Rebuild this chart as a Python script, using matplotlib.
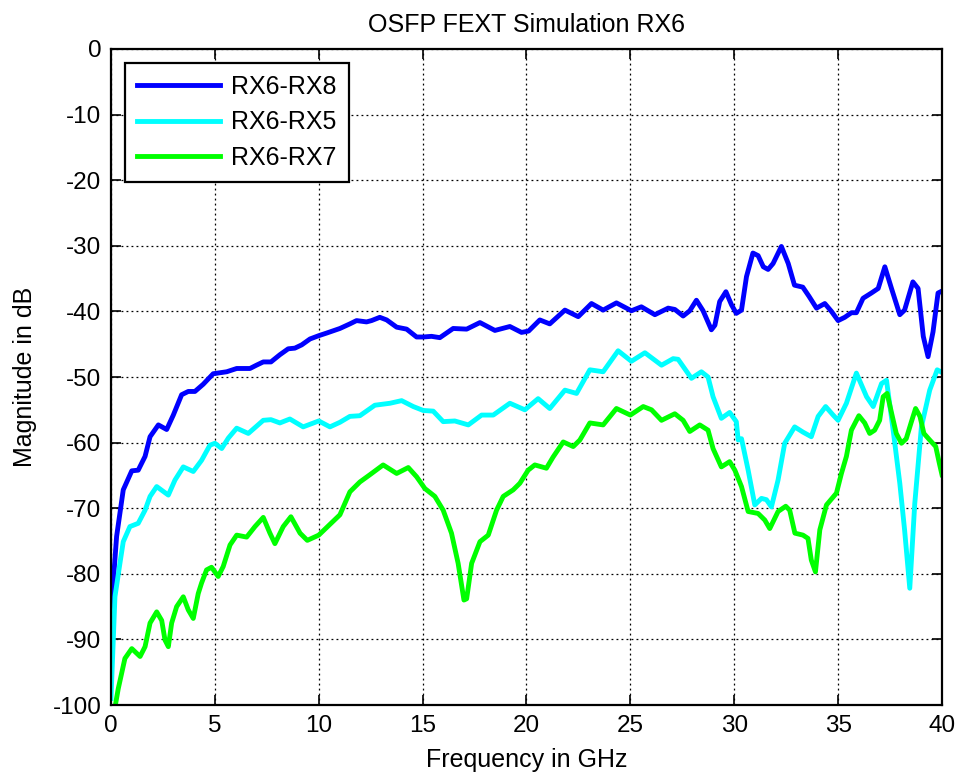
import matplotlib
matplotlib.use("Agg")
import matplotlib.pyplot as plt
import numpy as np

# RX6-RX8 (blue)
f_rx8 = [0.0, 0.27, 0.59, 1.0, 1.31, 1.64, 1.88, 2.28, 2.68, 3.0, 3.4, 3.72, 4.04, 4.44, 4.92,
         5.57, 6.05, 6.69, 7.0, 7.33, 7.7, 8.13, 8.53, 8.85, 9.18, 9.58, 10.0, 10.38, 11.02,
         11.5, 11.82, 12.3, 12.54, 12.94, 13.27, 13.75, 14.23, 14.71, 15.03, 15.43, 15.83,
         16.47, 17.12, 17.76, 18.48, 19.2, 19.76, 20.1, 20.64, 21.12, 21.85, 22.49, 23.13,
         23.69, 24.33, 25.05, 25.53, 26.18, 26.82, 27.14, 27.54, 27.86, 28.18, 28.5, 28.9,
         29.07, 29.3, 29.6, 29.87, 30.1, 30.35, 30.59, 30.9, 31.15, 31.4, 31.63, 31.87, 32.27,
         32.6, 32.9, 33.3, 33.6, 33.96, 34.36, 34.68, 35.0, 35.32, 35.64, 35.88, 36.2, 36.6,
         36.93, 37.25, 37.57, 37.97, 38.2, 38.6, 38.85, 39.1, 39.33, 39.57, 39.81, 40.0]
db_rx8 = [-86, -74.3, -67.2, -64.3, -64.2, -62.1, -59.1, -57.3, -58.0, -55.8, -52.7, -52.2, -52.2,
          -51.1, -49.5, -49.2, -48.7, -48.7, -48.2, -47.7, -47.7, -46.6, -45.7, -45.6, -45.1,
          -44.2, -43.7, -43.3, -42.6, -41.9, -41.4, -41.6, -41.4, -40.9, -41.3, -42.4, -42.7,
          -43.9, -43.9, -43.8, -44.0, -42.6, -42.7, -41.7, -42.9, -42.3, -43.2, -43.0, -41.3,
          -41.9, -39.8, -40.8, -38.8, -39.8, -38.7, -39.9, -39.3, -40.5, -39.5, -39.7, -40.7,
          -39.9, -38.3, -39.9, -42.8, -42.1, -38.5, -37.0, -39.0, -40.3, -39.8, -34.7, -31.1,
          -31.5, -33.2, -33.6, -32.7, -30.1, -32.7, -36.0, -36.3, -37.7, -39.5, -38.8, -40.0,
          -41.4, -40.9, -40.2, -40.2, -38.0, -37.2, -36.5, -33.2, -36.5, -40.5, -39.8, -35.5,
          -36.5, -43.8, -46.9, -43.1, -37.2, -36.9]

# RX6-RX5 (cyan)
f_rx5 = [0.0, 0.19, 0.43, 0.59, 0.91, 1.31, 1.64, 1.88, 2.2, 2.76, 3.08, 3.48, 3.96, 4.36, 4.76,
         5.0, 5.33, 5.65, 6.05, 6.61, 7.33, 7.7, 8.13, 8.61, 9.25, 10.0, 10.54, 11.02, 11.5,
         11.98, 12.7, 13.43, 13.99, 14.55, 15.03, 15.51, 15.99, 16.55, 17.2, 17.84, 18.4,
         19.2, 19.92, 20.56, 21.12, 21.85, 22.41, 23.05, 23.69, 24.41, 25.05, 25.7, 26.5,
         27.06, 27.3, 27.94, 28.42, 28.74, 28.98, 29.38, 29.78, 30.1, 30.19, 30.35, 30.67,
         30.99, 31.31, 31.55, 31.79, 32.11, 32.43, 32.91, 33.31, 33.71, 34.04, 34.4, 34.76,
         35.0, 35.4, 35.88, 36.37, 36.69, 37.09, 37.33, 37.65, 37.97, 38.2, 38.45, 38.69,
         39.01, 39.41, 39.77, 40.0]
db_rx5 = [-99, -83.5, -78.4, -75.1, -72.8, -72.3, -70.3, -68.2, -66.7, -68.0, -65.7, -63.7, -64.4,
          -62.7, -60.4, -60.1, -60.9, -59.3, -57.8, -58.6, -56.6, -56.5, -57.0, -56.4, -57.6,
          -56.7, -57.6, -56.9, -56.0, -55.9, -54.3, -54.0, -53.6, -54.5, -55.1, -55.2, -56.8,
          -56.7, -57.3, -55.8, -55.8, -54.0, -55.0, -53.3, -54.8, -52.0, -52.5, -48.9, -49.2,
          -46.0, -47.6, -46.3, -48.2, -47.2, -47.3, -50.2, -49.2, -50.0, -53.0, -56.3, -55.4,
          -56.8, -59.6, -59.4, -64.2, -69.5, -68.5, -68.7, -69.8, -65.7, -60.1, -57.6, -58.4,
          -59.1, -56.0, -54.5, -55.8, -56.6, -54.0, -49.4, -53.0, -54.5, -51.0, -50.5, -58.1,
          -66.2, -73.3, -82.2, -69.3, -57.6, -52.0, -48.9, -49.3]

# RX6-RX7 (green)
f_rx7 = [0.1, 0.35, 0.67, 1.0, 1.4, 1.64, 1.88, 2.2, 2.44, 2.6, 2.76, 2.92, 3.16, 3.48, 3.72,
         3.96, 4.2, 4.36, 4.6, 4.84, 5.16, 5.4, 5.73, 6.05, 6.53, 6.93, 7.33, 7.65, 7.89, 8.29,
         8.66, 9.1, 9.45, 10.0, 10.46, 11.02, 11.5, 11.98, 12.46, 13.1, 13.75, 14.31, 14.71,
         15.11, 15.59, 15.99, 16.39, 16.71, 16.99, 17.12, 17.36, 17.76, 18.16, 18.56, 18.88,
         19.36, 19.68, 20.08, 20.4, 20.96, 21.28, 21.77, 22.25, 22.57, 23.05, 23.69, 24.33,
         25.0, 25.62, 26.02, 26.5, 27.14, 27.54, 27.86, 28.34, 28.74, 28.98, 29.38, 29.78,
         30.03, 30.35, 30.67, 31.15, 31.47, 31.71, 32.11, 32.48, 32.67, 32.92, 33.31, 33.55,
         33.71, 33.91, 34.12, 34.44, 34.92, 35.16, 35.4, 35.64, 36.0, 36.28, 36.52, 36.76,
         37.0, 37.17, 37.36, 37.61, 37.8, 38.05, 38.28, 38.53, 38.73, 38.94, 39.13, 39.41,
         39.7, 39.87, 40.0]
db_rx7 = [-102, -97.5, -92.9, -91.4, -92.6, -91.1, -87.5, -85.8, -87.1, -90.1, -91.1, -87.5, -85.0,
          -83.5, -85.5, -86.8, -83.0, -81.4, -79.4, -79.0, -80.4, -78.9, -75.6, -74.1, -74.4,
          -72.8, -71.4, -73.8, -75.4, -72.8, -71.3, -73.8, -74.9, -74.1, -72.7, -71.0, -67.5,
          -66.0, -64.9, -63.4, -64.7, -63.8, -65.2, -67.0, -68.2, -70.3, -73.8, -78.4, -84.0,
          -83.8, -78.4, -75.1, -74.1, -70.3, -68.2, -67.2, -66.2, -64.2, -63.4, -63.9, -62.2,
          -59.9, -60.6, -59.6, -57.0, -57.3, -54.8, -55.8, -54.5, -55.0, -56.6, -55.6, -56.6,
          -58.3, -57.3, -58.1, -60.9, -63.7, -62.9, -64.2, -66.7, -70.5, -70.8, -71.8, -73.1,
          -70.5, -69.7, -70.3, -73.8, -74.1, -74.6, -77.9, -79.7, -73.3, -69.5, -67.7, -64.7,
          -62.1, -58.1, -55.9, -57.0, -58.6, -58.1, -56.6, -53.0, -52.5, -56.0, -58.6, -60.1,
          -59.4, -56.8, -54.8, -56.0, -58.6, -59.6, -60.6, -63.1, -64.9]

plt.rcParams['font.family'] = ['Liberation Sans', 'DejaVu Sans']
plt.rcParams['axes.unicode_minus'] = False

fig = plt.figure(figsize=(9.61, 7.74), dpi=100)
ax = fig.add_axes([0.1155, 0.0891, 0.8647, 0.8476])

ax.plot(f_rx8, db_rx8, color='#0000ff', lw=3.5, label='RX6-RX8')
ax.plot(f_rx5, db_rx5, color='#00ffff', lw=3.5, label='RX6-RX5')
ax.plot(f_rx7, db_rx7, color='#00ff00', lw=3.5, label='RX6-RX7')

ax.set_xlim(0, 40)
ax.set_ylim(-100, 0)
ax.set_xticks(np.arange(0, 41, 5))
ax.set_yticks(np.arange(-100, 1, 10))
ax.grid(True, color='black', linestyle=(0, (1.5, 2.5)), linewidth=0.9)
ax.tick_params(direction='in', top=True, right=True, labelsize=17.5, length=7,
               width=1.2, pad=7)
for s in ax.spines.values():
    s.set_linewidth(1.6)

ax.set_title('OSFP FEXT Simulation RX6', fontsize=18, pad=12)
ax.set_xlabel('Frequency in GHz', fontsize=18, labelpad=8)
ax.set_ylabel('Magnitude in dB', fontsize=18, labelpad=11)

leg = ax.legend(loc='upper left', fontsize=18, fancybox=False, framealpha=1,
                edgecolor='black', handlelength=3.3, borderaxespad=0.55,
                borderpad=0.5, labelspacing=0.45, handletextpad=0.45)
leg.get_frame().set_linewidth(1.6)

fig.savefig('out.png', dpi=100)
